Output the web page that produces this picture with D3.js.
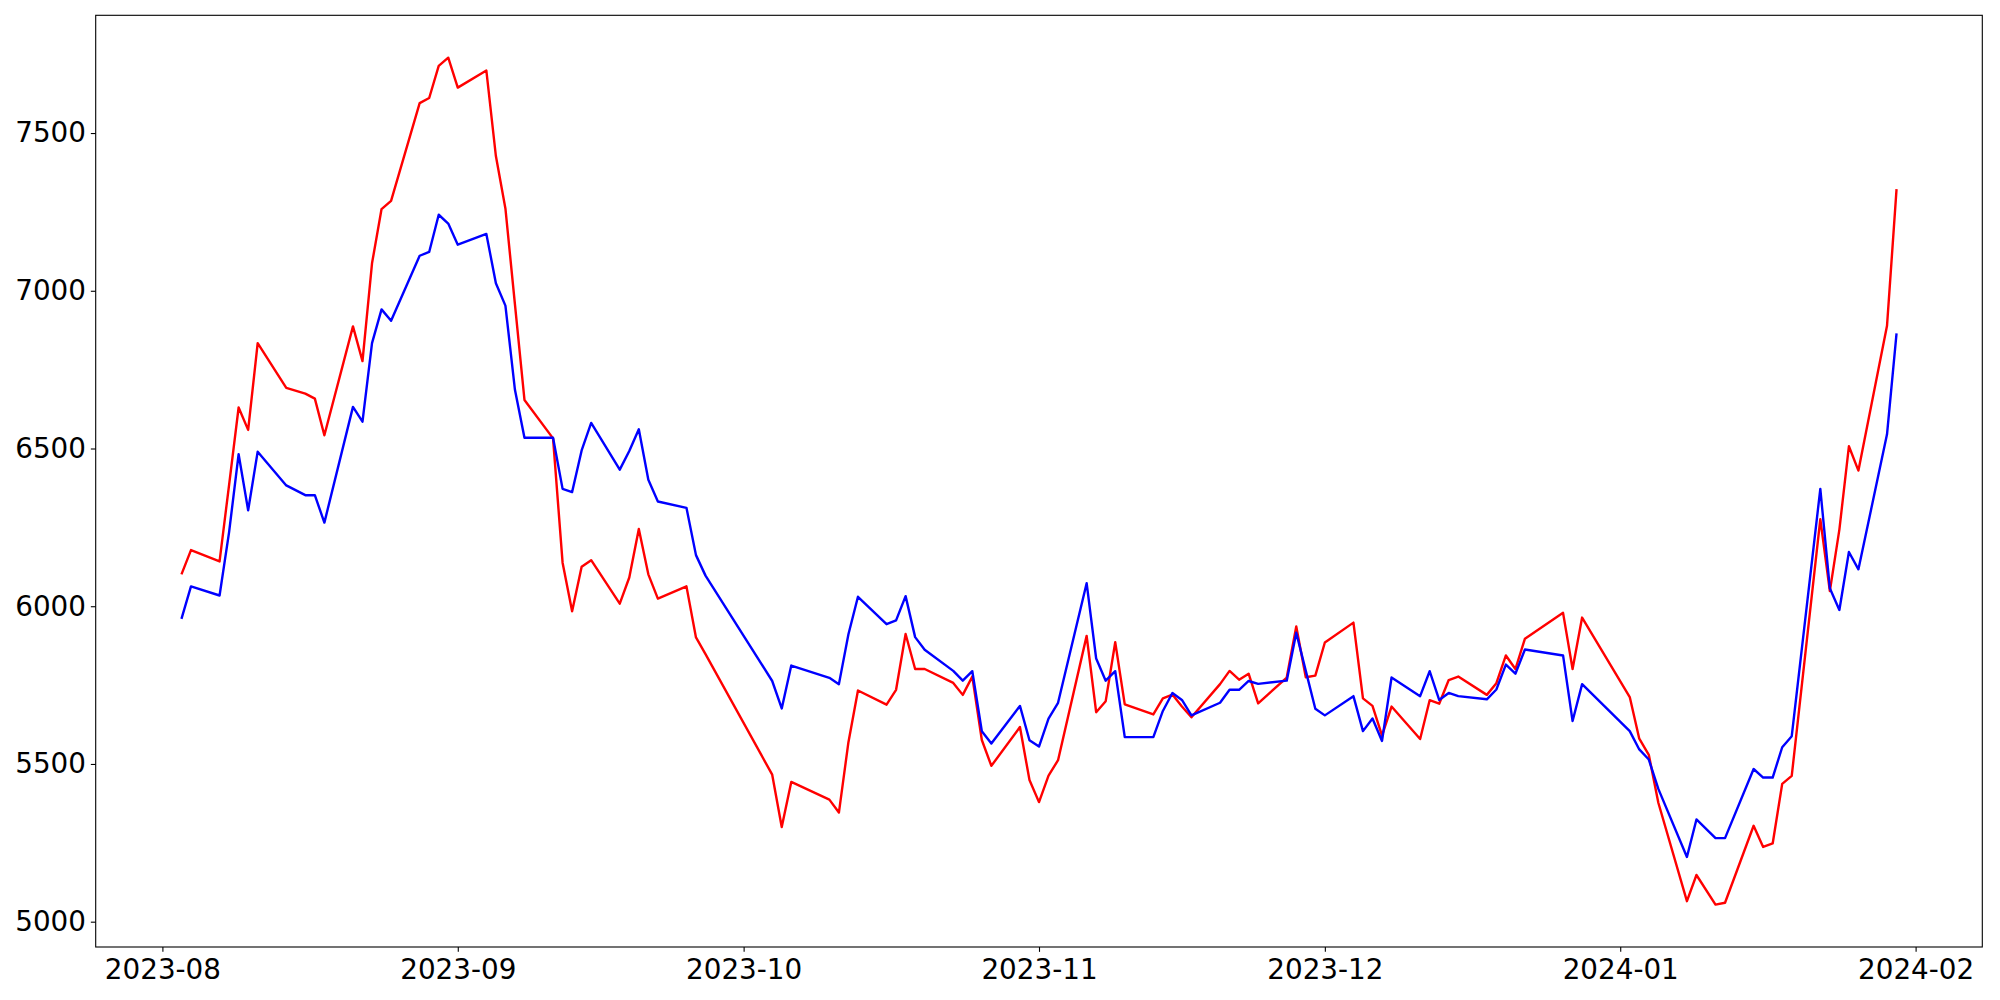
<!DOCTYPE html>
<html><head><meta charset="utf-8">
<script src="https://cdn.jsdelivr.net/npm/d3@7"></script>
<style>body{margin:0;background:#fff;} svg{display:block;}</style>
</head><body>
<script>
const dates = [
"2023-08-03","2023-08-04","2023-08-07","2023-08-08","2023-08-09","2023-08-10","2023-08-11",
"2023-08-14","2023-08-16","2023-08-17","2023-08-18","2023-08-21","2023-08-22","2023-08-23",
"2023-08-24","2023-08-25","2023-08-28","2023-08-29","2023-08-30","2023-08-31","2023-09-01",
"2023-09-04","2023-09-05","2023-09-06","2023-09-07","2023-09-08","2023-09-11","2023-09-12",
"2023-09-13","2023-09-14","2023-09-15","2023-09-18","2023-09-19","2023-09-20","2023-09-21",
"2023-09-22","2023-09-25","2023-09-26","2023-09-27","2023-10-04","2023-10-05","2023-10-06",
"2023-10-10","2023-10-11","2023-10-12","2023-10-13","2023-10-16","2023-10-17","2023-10-18",
"2023-10-19","2023-10-20","2023-10-23","2023-10-24","2023-10-25","2023-10-26","2023-10-27",
"2023-10-30","2023-10-31","2023-11-01","2023-11-02","2023-11-03","2023-11-06","2023-11-07",
"2023-11-08","2023-11-09","2023-11-10","2023-11-13","2023-11-14","2023-11-15","2023-11-16",
"2023-11-17","2023-11-20","2023-11-21","2023-11-22","2023-11-23","2023-11-24","2023-11-27",
"2023-11-28","2023-11-29","2023-11-30","2023-12-01","2023-12-04","2023-12-05","2023-12-06",
"2023-12-07","2023-12-08","2023-12-11","2023-12-12","2023-12-13","2023-12-14","2023-12-15",
"2023-12-18","2023-12-19","2023-12-20","2023-12-21","2023-12-22","2023-12-26","2023-12-27",
"2023-12-28","2024-01-02","2024-01-03","2024-01-04","2024-01-05","2024-01-08","2024-01-09",
"2024-01-11","2024-01-12","2024-01-15","2024-01-16","2024-01-17","2024-01-18","2024-01-19",
"2024-01-22","2024-01-23","2024-01-24","2024-01-25","2024-01-26","2024-01-29","2024-01-30"
];
const redValues = [
6101,6178,6142,6385,6630,6559,6834,
6692,6674,6658,6542,6887,6777,7087,
7259,7285,7595,7611,7713,7739,7644,
7698,7427,7261,6957,6654,6532,6138,
5984,6125,6146,6008,6091,6245,6101,
6024,6063,5901,5848,5466,5300,5443,
5387,5346,5569,5733,5688,5735,5912,
5801,5801,5757,5719,5777,5576,5494,
5617,5449,5379,5463,5512,5906,5664,
5699,5886,5689,5657,5708,5720,5682,
5648,5753,5795,5767,5786,5692,5774,
5936,5775,5780,5885,5948,5708,5684,
5590,5682,5579,5702,5691,5766,5777,
5719,5756,5844,5801,5897,5979,5801,
5964,5712,5580,5529,5377,5065,5148,
5054,5060,5304,5237,5248,5437,5462,
6276,6048,6243,6507,6430,6889,7322
];
const blueValues = [
5960,6063,6034,6235,6482,6304,6490,
6383,6352,6352,6265,6632,6585,6834,
6941,6905,7111,7123,7241,7213,7146,
7180,7024,6953,6686,6534,6534,6372,
6362,6494,6581,6433,6492,6561,6401,
6332,6312,6162,6097,5763,5676,5812,
5773,5753,5911,6030,5943,5955,6032,
5902,5862,5795,5764,5794,5604,5565,
5684,5575,5555,5644,5694,6073,5834,
5764,5794,5585,5585,5668,5725,5703,
5654,5694,5735,5735,5763,5754,5764,
5916,5795,5675,5654,5715,5604,5644,
5573,5774,5715,5794,5703,5725,5715,
5705,5736,5815,5786,5863,5844,5636,
5753,5604,5546,5514,5421,5205,5324,
5265,5265,5484,5457,5457,5553,5588,
6372,6057,5988,6172,6117,6545,6865
];
const yTickValues = [5000,5500,6000,6500,7000,7500];
const xTickLabels = ["2023-08","2023-09","2023-10","2023-11","2023-12","2024-01","2024-02"];

(function () {
const W = 2000, H = 1000;
const pL = 95.7, pR = 1982.3, pT = 15.3, pB = 947;
const parse = d3.utcParse("%Y-%m-%d");
const t = dates.map(parse);
const t0 = d3.min(t), t1 = d3.max(t);
const tPad = (t1 - t0) * 0.05;
const allV = redValues.concat(blueValues);
const vMin = d3.min(allV), vMax = d3.max(allV);
const vPad = (vMax - vMin) * 0.05;

const x = d3.scaleUtc().domain([new Date(+t0 - tPad), new Date(+t1 + tPad)]).range([pL, pR]);
const y = d3.scaleLinear().domain([vMin - vPad, vMax + vPad]).range([pB, pT]);

const svg = d3.select("body").append("svg").attr("width", W).attr("height", H);
svg.append("rect").attr("width", W).attr("height", H).attr("fill", "#fff");

svg.append("defs").append("clipPath").attr("id", "clip")
  .append("rect").attr("x", pL).attr("y", pT).attr("width", pR - pL).attr("height", pB - pT);

const line = d3.line().x(d => x(d[0])).y(d => y(d[1]));
const g = svg.append("g").attr("clip-path", "url(#clip)");
g.append("path").datum(t.map((d, i) => [d, redValues[i]]))
  .attr("d", line).attr("fill", "none").attr("stroke", "red").attr("stroke-width", 2.4)
  .attr("stroke-linejoin", "round").attr("stroke-linecap", "butt");
g.append("path").datum(t.map((d, i) => [d, blueValues[i]]))
  .attr("d", line).attr("fill", "none").attr("stroke", "blue").attr("stroke-width", 2.4)
  .attr("stroke-linejoin", "round").attr("stroke-linecap", "butt");

const fontFamily = "'DejaVu Sans', sans-serif";
const fontSize = 27.8;
const xTickDates = xTickLabels.map(d3.utcParse("%Y-%m"));

const xAxis = svg.append("g").attr("transform", `translate(0,${pB})`)
  .call(d3.axisBottom(x).tickValues(xTickDates).tickFormat(d3.utcFormat("%Y-%m"))
    .tickSize(4.86).tickSizeOuter(0).tickPadding(7.5));
const yAxis = svg.append("g").attr("transform", `translate(${pL},0)`)
  .call(d3.axisLeft(y).tickValues(yTickValues).tickFormat(d3.format("d"))
    .tickSize(4.86).tickSizeOuter(0).tickPadding(4.86));

[xAxis, yAxis].forEach(a => {
  a.select(".domain").remove();
  a.selectAll(".tick line").attr("stroke", "#000").attr("stroke-width", 1.1);
  a.selectAll(".tick text").attr("fill", "#000").style("font-family", fontFamily).style("font-size", fontSize + "px");
});

svg.append("rect").attr("x", pL).attr("y", pT).attr("width", pR - pL).attr("height", pB - pT)
  .attr("fill", "none").attr("stroke", "#000").attr("stroke-width", 1.1);
})();
</script>
</body></html>
